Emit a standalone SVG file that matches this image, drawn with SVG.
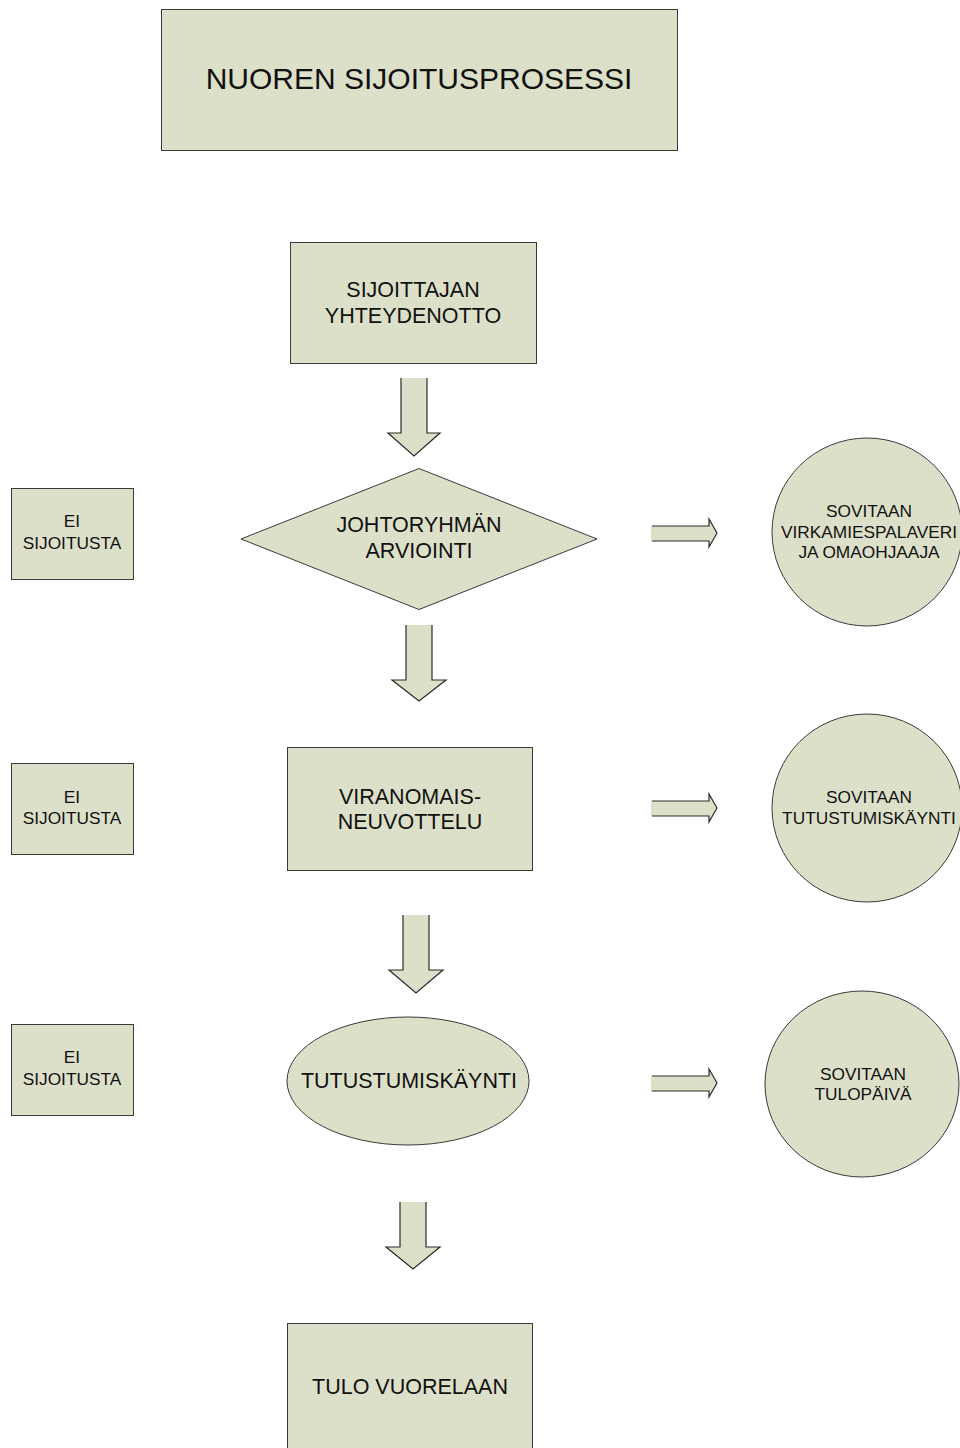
<svg xmlns="http://www.w3.org/2000/svg" width="960" height="1448" viewBox="0 0 960 1448">
<style>
.shape{fill:#dde0c9;stroke:#3a3a3a;stroke-width:1}
.arr{fill:#dde0c9;stroke:none}
.edge{fill:none;stroke:#2a2a2a;stroke-width:1.2}
text{font-family:"Liberation Sans",Arial,sans-serif;fill:#111;text-anchor:middle}
.t30{font-size:30px}
.t21{font-size:21.5px}
.t17{font-size:17.3px}
</style>
<rect width="960" height="1448" fill="#ffffff"/>

<g id="title">
<rect class="shape" x="161.5" y="9.5" width="516" height="141"/>
<text class="t30" x="419" y="89">NUOREN SIJOITUSPROSESSI</text>
</g>

<g id="yhteydenotto">
<rect class="shape" x="290.5" y="242.5" width="246" height="121"/>
<text class="t21" x="413" y="297">SIJOITTAJAN</text>
<text class="t21" x="413" y="323">YHTEYDENOTTO</text>
</g>

<g id="arviointi">
<polygon class="shape" points="419,468.5 597,539 419,609.5 241,539"/>
<text class="t21" x="419" y="532">JOHTORYHMÄN</text>
<text class="t21" x="419" y="558">ARVIOINTI</text>
</g>

<g id="ei1">
<rect class="shape" x="11.5" y="488.5" width="122" height="91"/>
<text class="t17" x="72" y="527">EI</text>
<text class="t17" x="72" y="549">SIJOITUSTA</text>
</g>

<g id="sovitaan1">
<ellipse class="shape" cx="867" cy="532" rx="95" ry="94"/>
<text class="t17" x="869" y="517">SOVITAAN</text>
<text class="t17" x="869" y="538">VIRKAMIESPALAVERI</text>
<text class="t17" x="869" y="558">JA OMAOHJAAJA</text>
</g>

<g id="neuvottelu">
<rect class="shape" x="287.5" y="747.5" width="245" height="123"/>
<text class="t21" x="410" y="804">VIRANOMAIS-</text>
<text class="t21" x="410" y="829">NEUVOTTELU</text>
</g>

<g id="ei2">
<rect class="shape" x="11.5" y="763.5" width="122" height="91"/>
<text class="t17" x="72" y="803">EI</text>
<text class="t17" x="72" y="824">SIJOITUSTA</text>
</g>

<g id="sovitaan2">
<ellipse class="shape" cx="867" cy="808" rx="95" ry="94"/>
<text class="t17" x="869" y="803">SOVITAAN</text>
<text class="t17" x="869" y="824">TUTUSTUMISKÄYNTI</text>
</g>

<g id="tutustumiskaynti">
<ellipse class="shape" cx="408" cy="1081" rx="121" ry="64"/>
<text class="t21" x="409" y="1088">TUTUSTUMISKÄYNTI</text>
</g>

<g id="ei3">
<rect class="shape" x="11.5" y="1024.5" width="122" height="91"/>
<text class="t17" x="72" y="1063">EI</text>
<text class="t17" x="72" y="1085">SIJOITUSTA</text>
</g>

<g id="sovitaan3">
<ellipse class="shape" cx="862" cy="1084" rx="97" ry="93"/>
<text class="t17" x="863" y="1080">SOVITAAN</text>
<text class="t17" x="863" y="1100">TULOPÄIVÄ</text>
</g>

<g id="tulo">
<rect class="shape" x="287.5" y="1323.5" width="245" height="130"/>
<text class="t21" x="410" y="1394">TULO VUORELAAN</text>
</g>

<g id="connectors">
<polygon class="arr" points="401,378 427,378 427,433 440,433 414,456 388,433 401,433"/>
<polyline class="edge" points="401,378 401,433 388,433 414,456 440,433 427,433 427,378"/>
<polygon class="arr" points="406,625 432,625 432,680 446,680 419,701 392,680 406,680"/>
<polyline class="edge" points="406,625 406,680 392,680 419,701 446,680 432,680 432,625"/>
<polygon class="arr" points="403,915 429,915 429,970 443,970 416,993 389,970 403,970"/>
<polyline class="edge" points="403,915 403,970 389,970 416,993 443,970 429,970 429,915"/>
<polygon class="arr" points="400,1202 426,1202 426,1247 440,1247 413,1269 386,1247 400,1247"/>
<polyline class="edge" points="400,1202 400,1247 386,1247 413,1269 440,1247 426,1247 426,1202"/>
<polygon class="arr" points="651,526 709,526 709,519 717,533 709,547 709,541 651,541"/>
<polyline class="edge" points="652,526 709,526 709,519 717,533 709,547 709,541 652,541"/>
<polygon class="arr" points="651,801 709,801 709,794 717,808 709,822 709,816 651,816"/>
<polyline class="edge" points="652,801 709,801 709,794 717,808 709,822 709,816 652,816"/>
<polygon class="arr" points="651,1076 709,1076 709,1069 717,1083 709,1097 709,1091 651,1091"/>
<polyline class="edge" points="652,1076 709,1076 709,1069 717,1083 709,1097 709,1091 652,1091"/>
</g>
</svg>
